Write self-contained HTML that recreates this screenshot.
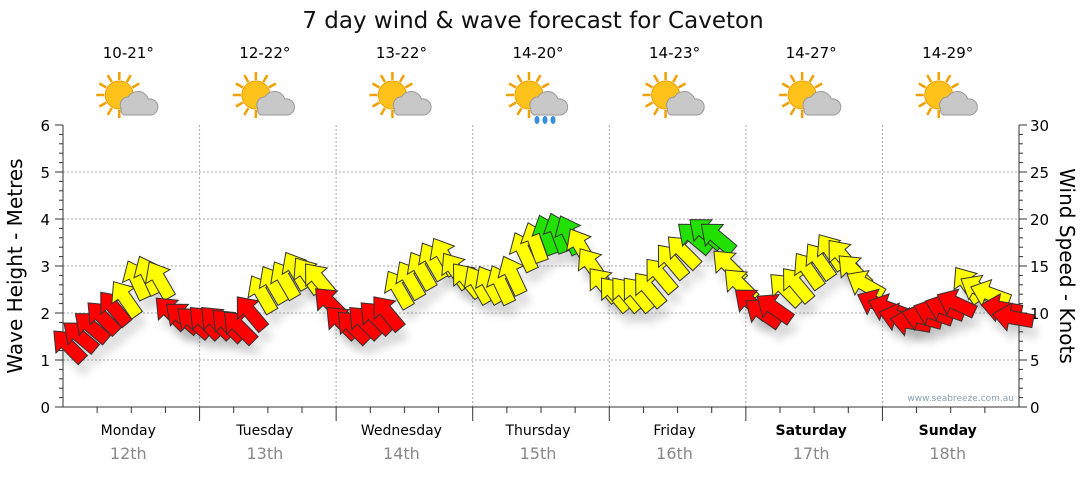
<!DOCTYPE html>
<html><head><meta charset="utf-8"><style>
body{margin:0;background:#fff;font-family:"DejaVu Sans","Liberation Sans",sans-serif;}
svg text{font-family:"DejaVu Sans","Liberation Sans",sans-serif;}
</style></head><body>
<svg id="c" width="1080" height="475" xmlns="http://www.w3.org/2000/svg">
<defs><filter id="sh" x="-50%" y="-50%" width="200%" height="200%"><feGaussianBlur stdDeviation="4"/></filter></defs>
<text x="533" y="28" font-size="23" text-anchor="middle" fill="#111">7 day wind &amp; wave forecast for Caveton</text>
<g id="grid"></g><g id="axes"></g><g id="icons"></g><g id="shadows"></g><g id="arrows"></g>
<text x="22" y="266" font-size="20" text-anchor="middle" transform="rotate(-90 22 266)">Wave Height - Metres</text>
<text x="1060" y="266" font-size="20" text-anchor="middle" transform="rotate(90 1060 266)">Wind Speed - Knots</text>
<text x="1014" y="401" font-size="9" text-anchor="end" fill="#8aa0b8">www.seabreeze.com.au</text>
</svg>
<script>
const days=["Monday","Tuesday","Wednesday","Thursday","Friday","Saturday","Sunday"];
const dates=["12th","13th","14th","15th","16th","17th","18th"];
const temps=["10-21°","12-22°","13-22°","14-20°","14-23°","14-27°","14-29°"];
const rainy=[false,false,false,true,false,false,false];
const waveTicks=[0,1,2,3,4,5,6];
const knotTicks=[0,5,10,15,20,25,30];
const windKnots=[6.5,7.5,8.5,9.5,10.5,11.5,13.5,14,13.5,10,9.5,9,
9,9,8.7,8.5,10,12,13,13.5,14.5,14,13.5,11,
9,8.5,9,9.5,10,12.5,13.5,14.5,15.5,16,14.5,13.5,
13,13,13,14,16.5,17.5,18.3,18.5,18.3,17,15,13,
12,12,12,12.5,14,15.5,16.5,18,18.5,18,15,13,
11,10,10.5,12.5,13,14.5,15.5,16.5,16,14.5,13,11,
10.5,9.5,9,9.5,10,10.5,11,13,12.5,12,10.5,9.5];
const windDir=[-45,-50,-50,-45,-40,-35,-25,-25,-30,-45,-50,-50,
-45,-45,-45,-45,-40,-30,-30,-30,-30,-35,-40,-45,
-45,-45,-45,-45,-40,-30,-30,-30,-30,-30,-35,-40,
-30,-30,-25,-25,-25,-20,-20,-20,-25,-30,-35,-40,
-40,-40,-40,-40,-40,-40,-45,-50,-50,-50,-45,-45,
-50,-55,-55,-45,-40,-35,-35,-35,-40,-45,-60,-65,
-70,-75,-80,-75,-70,-70,-65,-35,-60,-70,-80,-80];
const NS="http://www.w3.org/2000/svg";
const X0=63,X1=1019,Y0=407,Y1=125;
const dayW=(X1-X0)/7;
const yWave=v=>Y0-(v/6)*(Y0-Y1);
const yKnot=v=>Y0-(v/30)*(Y0-Y1);
const xIdx=i=>X0+(i+0.5)/12*dayW;
function el(t,a,p){const e=document.createElementNS(NS,t);for(const k in a)e.setAttribute(k,a[k]);p.appendChild(e);return e;}
const grid=document.getElementById('grid'),axes=document.getElementById('axes');
waveTicks.forEach((v,i)=>{const y=yWave(v);
 if(v>0&&v<6){const l=el('line',{x1:X0,x2:X1,y1:y,y2:y,stroke:'#aaa','stroke-dasharray':'2,2'},grid);
 
 }
 const t=el('text',{x:50,y:y+6,'font-size':15,'text-anchor':'end'},axes);t.textContent=v;
 
 
 el('line',{x1:X0-8,x2:X0,y1:y,y2:y,stroke:'#333'},axes);
 if(v<6)for(let k=1;k<5;k++){const yy=y-k*(Y0-Y1)/30;el('line',{x1:X0-4,x2:X0,y1:yy,y2:yy,stroke:'#333'},axes);}
});
knotTicks.forEach(v=>{const y=yKnot(v);
 const t=el('text',{x:1030,y:y+6,'font-size':15},axes);t.textContent=v;
 
 
 el('line',{x1:X1,x2:X1+8,y1:y,y2:y,stroke:'#333'},axes);
 if(v<30)for(let k=1;k<5;k++){const yy=y-k*(Y0-Y1)/30;el('line',{x1:X1,x2:X1+4,y1:yy,y2:yy,stroke:'#333'},axes);}
});
el('line',{x1:X0,x2:X0,y1:Y1,y2:Y0,stroke:'#333'},axes);
el('line',{x1:X1,x2:X1,y1:Y1,y2:Y0,stroke:'#333'},axes);
el('line',{x1:X0,x2:X1,y1:Y0,y2:Y0,stroke:'#333'},axes);
const icons=document.getElementById('icons');
days.forEach((d,i)=>{const xs=X0+i*dayW,xc=xs+dayW/2;
 if(i>0){const l=el('line',{x1:xs,x2:xs,y1:Y1,y2:Y0,stroke:'#aaa','stroke-dasharray':'2,2'},grid);
 
 
 el('line',{x1:xs,x2:xs,y1:Y0,y2:Y0+14,stroke:'#333'},axes);}
 for(let k=1;k<4;k++){const xx=xs+k*dayW/4;el('line',{x1:xx,x2:xx,y1:Y0,y2:Y0+6,stroke:'#333'},axes);}
 const t=el('text',{x:xc-3,y:435,'font-size':14,'text-anchor':'middle','font-weight':i>=5?'bold':'normal'},axes);t.textContent=d;
 
 
 const t2=el('text',{x:xc-3,y:459,'font-size':16,'text-anchor':'middle',fill:'#888'},axes);t2.textContent=dates[i];
 
 
 const t3=el('text',{x:xc-3,y:58,'font-size':15,'text-anchor':'middle'},icons);t3.textContent=temps[i];
 
 
 const g=el('g',{transform:`translate(${xc-12},95)`},icons);
 
 
 for(let a=0;a<360;a+=30){const r=a*Math.PI/180;el('line',{x1:Math.cos(r)*15,y1:Math.sin(r)*15,x2:Math.cos(r)*23,y2:Math.sin(r)*23,stroke:'#f0a000','stroke-width':2.5},g);}
 el('circle',{cx:0,cy:0,r:14,fill:'#ffc21a',stroke:'#f0a000'},g);
 el('path',{d:'M2 14 a8 8 0 0 1 7-12 a11 11 0 0 1 20 2 a8 8 0 0 1 3 16 h-27 a5 5 0 0 1 -3-6z',fill:'#c8c8c8',stroke:'#999'},g);
 if(rainy[i])[8,16,24].forEach(dx=>el('ellipse',{cx:dx,cy:25,rx:2.5,ry:4,fill:'#3a8fd8'},g));
});
const arr=document.getElementById('arrows'),sh=document.getElementById('shadows');
const shape='M0,-21 L14,-4 L6.5,-4 L6.5,20 L-6.5,20 L-6.5,-4 L-14,-4 Z';
windKnots.forEach((v,i)=>{const x=xIdx(i),y=yKnot(v);
 const col=v>=17.8?'#22e000':(v>=11.5?'#ffff00':'#ff0000');
 const s=el('path',{d:shape,transform:`translate(${x+5},${y+12}) rotate(${windDir[i]})`,fill:'#000',opacity:0.12,filter:'url(#sh)'},sh);
 
 
 const p=el('path',{d:shape,transform:`translate(${x},${y}) rotate(${windDir[i]})`,fill:col,stroke:'#333','stroke-width':1},arr);
 
 
});
</script>
</body></html>
